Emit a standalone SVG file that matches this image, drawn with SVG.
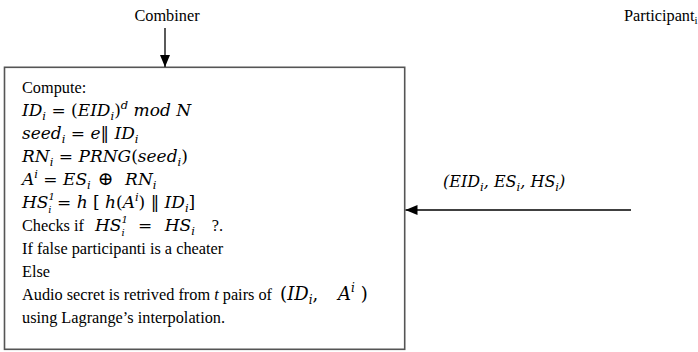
<svg xmlns="http://www.w3.org/2000/svg" width="698" height="352" viewBox="0 0 698 352">
<defs>
<style>
.t{font-family:"Liberation Serif","Times New Roman",serif;font-size:16.3px;fill:#000}
.m{font-family:"DejaVu Serif","Liberation Serif",serif;font-style:italic;font-size:17px;fill:#000}
.u{font-style:normal}
.s{font-size:11.5px}
.ss{font-size:10px}
.big{font-size:18px}
.bs{font-size:12px}
.lbl{font-size:16px}
.line{stroke:#000;stroke-width:1.3;fill:none}
.box{fill:#fff;stroke:#555;stroke-width:1.6}
</style>
<marker id="ah" viewBox="0 0 12 10" refX="12" refY="5" markerWidth="12" markerHeight="10" markerUnits="userSpaceOnUse" orient="auto">
<path d="M0,0 L12,5 L0,10 Z" fill="#000"/>
</marker>
</defs>
<g id="combiner-label"><text class="t" x="167" y="21" text-anchor="middle">Combiner</text></g>
<g id="participant-label"><text class="t" x="624" y="21">Participant<tspan style="font-size:11px" dy="3">i</tspan></text></g>
<g id="combiner-box">
<rect class="box" x="4.5" y="67.3" width="400.2" height="282"/>
<text class="t" x="22" y="93">Compute:</text>
<text class="m" x="22" y="116">ID<tspan class="s" dy="4">i</tspan><tspan class="u" dy="-4"> = (</tspan>EID<tspan class="s" dy="4">i</tspan><tspan class="u" dy="-4">)</tspan><tspan class="s" dy="-7">d</tspan><tspan dy="7"> mod N</tspan></text>
<text class="m" x="22" y="139">seed<tspan class="s" dy="4">i</tspan><tspan class="u" dy="-4"> = </tspan>e<tspan class="u">‖ </tspan>ID<tspan class="s" dy="4">i</tspan></text>
<text class="m" x="22" y="162">RN<tspan class="s" dy="4">i</tspan><tspan class="u" dy="-4"> = </tspan>PRNG<tspan class="u">(</tspan>seed<tspan class="s" dy="4">i</tspan><tspan class="u" dy="-4">)</tspan></text>
<text class="m" x="22" y="185">A<tspan class="s" dy="-7">i</tspan><tspan class="u" dy="7"> = </tspan>ES<tspan class="s" dy="4">i</tspan><tspan class="u" style="font-size:19px" dx="7" dy="-4">⊕</tspan><tspan dx="6"> RN</tspan><tspan class="s" dy="4">i</tspan></text>
<text class="m" x="22" y="208">HS<tspan class="ss" dy="-8">1</tspan><tspan class="ss" dx="-6.5" dy="13">i</tspan><tspan class="u" dy="-5"> = </tspan>h<tspan class="u"> [ </tspan>h<tspan class="u">(</tspan>A<tspan class="s" dy="-7">i</tspan><tspan class="u" dy="7">) ‖ </tspan>ID<tspan class="s" dy="4">i</tspan><tspan class="u" dy="-4">]</tspan></text>
<text class="t" x="22" y="231">Checks if <tspan class="m" dx="7">HS</tspan><tspan class="m ss" dy="-8">1</tspan><tspan class="m ss" dx="-6.5" dy="13">i</tspan><tspan class="m u" dx="8" dy="-5"> = </tspan><tspan class="m" dx="7">HS</tspan><tspan class="m s" dy="4">i</tspan><tspan dx="17" dy="-4">?.</tspan></text>
<text class="t" x="22" y="254">If false participanti is a cheater</text>
<text class="t" x="22" y="277">Else</text>
<text class="t" x="22" y="300">Audio secret is retrived from <tspan font-style="italic">t</tspan> pairs of <tspan class="m u big" dx="4">(</tspan><tspan class="m big">ID</tspan><tspan class="m bs" dy="4">i</tspan><tspan class="m u big" dy="-4">, </tspan><tspan class="m big" dx="14">A</tspan><tspan class="m bs" dy="-8">i</tspan><tspan class="m u big" dx="6" dy="8">)</tspan></text>
<text class="t" x="22" y="323">using Lagrange’s interpolation.</text>
</g>
<g id="message-label"><text class="m lbl" x="443" y="187">(EID<tspan class="s" dy="4">i</tspan><tspan dy="-4">, ES</tspan><tspan class="s" dy="4">i</tspan><tspan dy="-4">, HS</tspan><tspan class="s" dy="4">i</tspan><tspan dy="-4">)</tspan></text></g>
<g id="connectors">
<line class="line" x1="165" y1="28" x2="165" y2="67" marker-end="url(#ah)"/>
<line class="line" x1="631" y1="210" x2="405.5" y2="210" marker-end="url(#ah)"/>
</g>
</svg>
